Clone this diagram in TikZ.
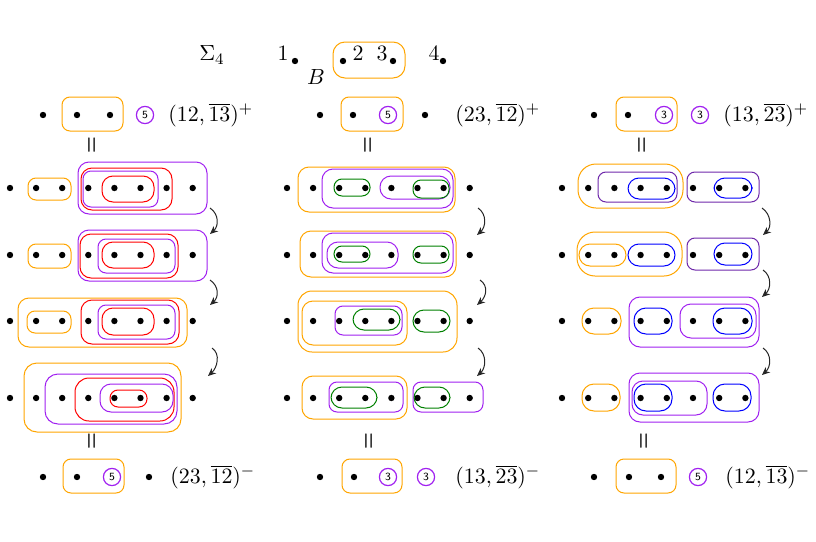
\documentclass[tikz,border=0pt]{standalone}
\usetikzlibrary{arrows.meta,calc}
\definecolor{myorange}{RGB}{255,165,0}
\definecolor{mypurple}{RGB}{160,32,240}
\definecolor{mydpurple}{RGB}{110,40,170}
\definecolor{mygreen}{RGB}{0,128,0}
\begin{document}
\begin{tikzpicture}[x=0.5pt,y=-0.5pt,
  font=\fontsize{11}{13}\selectfont,
  dot/.style={circle,fill=black,inner sep=0pt,minimum size=3.2pt},
  bx/.style={line width=0.5pt,rounded corners=4pt},
  ob/.style={bx,draw=myorange},
  pb/.style={bx,draw=mypurple},
  rb/.style={bx,draw=red},
  gb/.style={bx,draw=mygreen},
  bb/.style={bx,draw=blue},
  db/.style={bx,draw=mydpurple},
  big/.style={rounded corners=5.5pt},
  circnum/.style={circle,draw=mypurple,line width=0.6pt,inner sep=0pt,minimum size=8.6pt,font=\sffamily\fontsize{5.5}{6}\selectfont},
  eqv/.style={rotate=90,inner sep=0pt,font=\bfseries\fontsize{12}{13}\selectfont,xscale=0.8},
  lbl/.style={anchor=west,inner sep=0pt},
  flow/.style={line width=0.5pt,black!85,-{Stealth[length=4pt,width=3.5pt]}}
]
\useasboundingbox (0,0) rectangle (816,542);

% ---------- header ----------
\node (sigma) at (212,55) {$\Sigma_4$};
\node (h1) at (283,53) {$1$};
\node[dot] (hd1) at (295,61) {};
\node (hB) at (316,77) {$B$};
\draw[ob,rounded corners=6pt] (333,42) rectangle (405,78);
\node[dot] (hd2) at (343,61) {};
\node (h2) at (358,53) {$2$};
\node (h3) at (382,53) {$3$};
\node[dot] (hd3) at (393,61) {};
\node (h4) at (434,53) {$4$};
\node[dot] (hd4) at (443,61) {};

% ---------- top row ----------
\node[dot] (t1a) at (43,115) {};
\draw[ob] (62,97) rectangle (123,131);
\node[dot] (t1b) at (77,115) {};
\node[dot] (t1c) at (110,115) {};
\node[circnum] (t1n) at (145,115) {5};
\node[lbl] (t1l) at (168,115) {$(12,\overline{13})^+$};

\node[dot] (t2a) at (320,115) {};
\draw[ob] (341,97) rectangle (403,131);
\node[dot] (t2b) at (353,115) {};
\node[circnum] (t2n) at (388,115) {5};
\node[dot] (t2c) at (425,115) {};
\node[lbl] (t2l) at (455,115) {$(23,\overline{12})^+$};

\node[dot] (t3a) at (594,115) {};
\draw[ob] (616,97) rectangle (677,131);
\node[dot] (t3b) at (628,115) {};
\node[circnum] (t3n) at (664,115) {3};
\node[circnum] (t3m) at (700,115) {3};
\node[lbl] (t3l) at (723,115) {$(13,\overline{23})^+$};

\node[eqv] (e1) at (93,145) {=};
\node[eqv] (e2) at (369,145) {=};
\node[eqv] (e3) at (643,145) {=};

% ---------- dots of the grid ----------
\foreach \r/\yy in {1/188,2/255,3/321,4/398}{
  \foreach \k in {0,...,7}{
    \node[dot] (a\r\k) at ({10+26.1*\k},\yy) {};
    \node[dot] (b\r\k) at ({287+26.1*\k},\yy) {};
    \node[dot] (c\r\k) at ({562+26.2*\k},\yy) {};
  }
}

% ---------- column 1 ----------
\draw[ob] (28,178) rectangle (71,200);
\draw[pb,big] (78,162) rectangle (207,214);
\draw[rb,big] (81,168) rectangle (172,210);
\draw[pb] (83,171) rectangle (158,207);
\draw[rb,big] (102,176) rectangle (154,202);

\draw[ob] (28,244) rectangle (71,268);
\draw[pb,big] (78,230) rectangle (207,281);
\draw[rb,big] (80,234) rectangle (178,278);
\draw[pb] (98,239) rectangle (175,273);
\draw[rb,big] (102,242) rectangle (154,268);

\draw[ob,big] (18,298) rectangle (187,347);
\draw[ob] (27,311) rectangle (71,333);
\draw[rb,big] (81,300) rectangle (179,344);
\draw[pb] (98,305) rectangle (175,339);
\draw[rb,big] (102,308) rectangle (154,335);

\draw[ob,rounded corners=6.5pt] (24,363) rectangle (181,432);
\draw[pb,rounded corners=6.5pt] (45,374) rectangle (177,424);
\draw[rb,rounded corners=7pt] (75,378) rectangle (174,421);
\draw[pb,big] (100,384) rectangle (173,412);
\draw[rb] (110,390) rectangle (147,407);

% ---------- column 2 ----------
\draw[ob,big] (298,167) rectangle (455,212);
\draw[pb,big] (322,169) rectangle (453,208);
\draw[gb] (334,179) rectangle (370,196);
\draw[pb,big] (380,176) rectangle (450,199);
\draw[gb] (413,180) rectangle (449,198);

\draw[ob,big] (300,231) rectangle (456,277);
\draw[pb,big] (322,233) rectangle (453,273);
\draw[pb,big] (327,242) rectangle (398,268);
\draw[gb] (334,246) rectangle (370,262);
\draw[gb] (413,246) rectangle (449,263);

\draw[ob,rounded corners=7pt] (298,291) rectangle (457,352);
\draw[ob,big] (302,301) rectangle (407,345);
\draw[pb] (335,306) rectangle (402,335);
\draw[gb,big] (353,309) rectangle (400,330);
\draw[gb,big] (413,310) rectangle (450,332);

\draw[ob,big] (302,376) rectangle (407,419);
\draw[pb] (329,382) rectangle (403,412);
\draw[gb,big] (331,387) rectangle (377,408);
\draw[pb] (413,382) rectangle (483,412);
\draw[gb,big] (414,387) rectangle (450,408);

% ---------- column 3 ----------
\draw[ob,rounded corners=9pt] (578,164) rectangle (683,208);
\draw[db] (598,172) rectangle (677,202);
\draw[bb,big] (628,178) rectangle (675,199);
\draw[db] (687,172) rectangle (759,202);
\draw[bb,big] (714,178) rectangle (752,198);

\draw[ob,rounded corners=9pt] (577,232) rectangle (682,276);
\draw[ob,big] (579,244) rectangle (626,266);
\draw[bb,big] (628,244) rectangle (675,266);
\draw[db] (687,238) rectangle (759,270);
\draw[bb,big] (714,243) rectangle (752,265);

\draw[ob,rounded corners=6pt] (582,308) rectangle (621,334);
\draw[pb,big] (629,297) rectangle (759,347);
\draw[bb,rounded corners=6pt] (634,308) rectangle (672,334);
\draw[pb,big] (680,304) rectangle (756,338);
\draw[bb,rounded corners=6pt] (713,308) rectangle (752,334);

\draw[ob,rounded corners=6pt] (582,384) rectangle (620,411);
\draw[pb,big] (629,373) rectangle (759,422);
\draw[pb,big] (632,381) rectangle (707,415);
\draw[bb,rounded corners=6pt] (634,384) rectangle (672,411);
\draw[bb,rounded corners=6pt] (713,384) rectangle (751,411);

% ---------- arrows ----------
\foreach \n/\xs/\ys/\xe/\ye in {p1/210/208/210/234, p2/210/280/210/305, p3/212/348/208/376,
  q1/478/208/477/235, q2/480/280/477/305, q3/478/348/477/376,
  s1/762/208/763/235, s2/763/270/762/297, s3/763/348/762/375}{
  \coordinate (\n s) at (\xs,\ys);
  \coordinate (\n e) at (\xe,\ye);
  \draw[flow] (\n s) .. controls ($(\n s)+(9,6)$) and ($(\n e)+(9,-8)$) .. (\n e);
}

% ---------- bottom row ----------
\node[eqv] (f1) at (93,441) {=};
\node[eqv] (f2) at (370,441) {=};
\node[eqv] (f3) at (645,441) {=};

\node[dot] (u1a) at (43,477) {};
\draw[ob] (63,459) rectangle (124,493);
\node[dot] (u1b) at (77,477) {};
\node[circnum] (u1n) at (112,477) {5};
\node[dot] (u1c) at (149,477) {};
\node[lbl] (u1l) at (170,477) {$(23,\overline{12})^-$};

\node[dot] (u2a) at (320,477) {};
\draw[ob] (342,459) rectangle (402,493);
\node[dot] (u2b) at (354,477) {};
\node[circnum] (u2n) at (388,477) {3};
\node[circnum] (u2m) at (426,477) {3};
\node[lbl] (u2l) at (455,477) {$(13,\overline{23})^-$};

\node[dot] (u3a) at (594,477) {};
\draw[ob] (616,459) rectangle (676,493);
\node[dot] (u3b) at (629,477) {};
\node[dot] (u3c) at (661,477) {};
\node[circnum] (u3n) at (698,477) {5};
\node[lbl] (u3l) at (725,477) {$(12,\overline{13})^-$};
\end{tikzpicture}
\end{document}
